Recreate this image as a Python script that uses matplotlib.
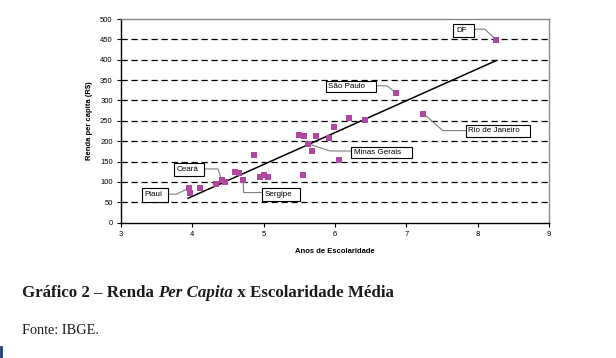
import matplotlib
matplotlib.use("Agg")
import matplotlib.pyplot as plt
from matplotlib.patches import Rectangle
from matplotlib.lines import Line2D

# ---- data ----
escolaridade = [3.95, 3.97, 4.11, 4.33, 4.41, 4.46, 4.60, 4.66, 4.71, 4.87,
                4.95, 5.00, 5.06, 5.50, 5.57, 5.55, 5.62, 5.68, 5.73, 5.91,
                6.05, 5.99, 6.20, 6.42, 6.86, 7.24, 8.26]
renda = [85, 72, 85, 94, 105, 100, 125, 121, 105, 167,
         111, 116, 113, 215, 214, 116, 194, 177, 214, 208,
         153, 236, 256, 253, 318, 268, 449]
trend_x = [3.94, 8.26]
trend_y = [60, 398]

label_names = ["DF", "São Paulo", "Rio de Janeiro", "Minas Gerais", "Ceará", "Piauí", "Sergipe"]
label_points = [(8.26, 449), (6.86, 318), (7.24, 268), (5.62, 194), (4.41, 105), (3.95, 85), (4.71, 105)]

x_ticks = [3, 4, 5, 6, 7, 8, 9]
y_ticks = [0, 50, 100, 150, 200, 250, 300, 350, 400, 450, 500]

x_label = "Anos de Escolaridade"
y_label = "Renda per capita (R$)"
caption_parts = ["Gráfico 2 – Renda ", "Per Capita", " x Escolaridade Média"]
source = "Fonte: IBGE."

# ---- layout ----
W, H = 616, 358
fig = plt.figure(figsize=(W / 100, H / 100), dpi=100)
fig.patch.set_facecolor("white")

ax_l, ax_r, ax_t, ax_b = 121, 549, 19, 222.7
ax = fig.add_axes([ax_l / W, 1 - ax_b / H, (ax_r - ax_l) / W, (ax_b - ax_t) / H])
ax.set_xlim(3, 9)
ax.set_ylim(0, 500)

sans = ["Liberation Sans", "DejaVu Sans"]
serif = ["Liberation Serif", "DejaVu Serif"]

for y in y_ticks[1:-1]:
    ax.axhline(y, color="black", lw=0.9, ls=(0, (5, 3)), zorder=1)

ax.plot(trend_x, trend_y, color="black", lw=1.1, zorder=2)
ax.scatter(escolaridade, renda, marker="s", s=18, color="#B0489F", lw=0, zorder=3)

ax.set_xticks(x_ticks)
ax.set_yticks(y_ticks)
ax.tick_params(direction="out", length=3, width=0.8, labelsize=5.5, pad=3, color="black")
for lab in ax.get_xticklabels() + ax.get_yticklabels():
    lab.set_family(sans)
ax.spines["left"].set_color("black")
ax.spines["bottom"].set_color("black")
ax.spines["top"].set_color("#8a8a8a")
ax.spines["right"].set_color("#8a8a8a")
for s in ax.spines.values():
    s.set_linewidth(1.0)

ax.set_xlabel(x_label, fontsize=5.5, fontweight="bold", family=sans, labelpad=7)
ax.set_ylabel(y_label, fontsize=5.5, fontweight="bold", family=sans, labelpad=5)

# label boxes: (x0, x1, y0, y1) in data coords, connector path
boxes = [
    (7.66, 7.95, 457, 488),
    (5.87, 6.57, 321, 349),
    (7.83, 8.73, 211, 240),
    (6.23, 7.08, 159, 187),
    (3.74, 4.16, 115, 146),
    (3.29, 3.66, 52, 84),
    (4.98, 5.51, 53, 84),
]
connectors = [
    [(7.95, 475), (8.10, 475)],
    [(6.57, 336), (6.73, 336)],
    [(7.83, 226), (7.51, 226)],
    [(6.23, 176), (5.93, 176)],
    [(4.16, 132), (4.36, 132)],
    [(3.66, 70), (3.78, 70)],
    [(4.98, 74), (4.72, 74)],
]
for name, pt, (x0, x1, y0, y1), conn in zip(label_names, label_points, boxes, connectors):
    ax.add_patch(Rectangle((x0, y0), x1 - x0, y1 - y0, facecolor="white",
                           edgecolor="black", lw=0.8, zorder=4))
    ax.text(x0 + 0.035, (y0 + y1) / 2, name, fontsize=5.8, family=sans,
            ha="left", va="center", zorder=5)
    xs = [conn[0][0], conn[1][0], pt[0]]
    ys = [conn[0][1], conn[1][1], pt[1]]
    ax.plot(xs, ys, color="#7f7f7f", lw=0.8, zorder=2.5)

# caption
fig.canvas.draw()
renderer = fig.canvas.get_renderer()
x_px = 22
styles = ["normal", "italic", "normal"]
for part, st in zip(caption_parts, styles):
    t = fig.text(x_px / W, 1 - 297 / H, part, fontsize=12.2, fontweight="bold",
                 style=st, family=serif, ha="left", va="baseline", color="#1a1a1a")
    bb = t.get_window_extent(renderer)
    x_px += bb.width
fig.text(22 / W, 1 - 334 / H, source, fontsize=10.3, family=serif,
         ha="left", va="baseline", color="#1a1a1a")

fig.add_artist(Line2D([1 / W, 1 / W], [1 - 347 / H, 0], color="#1f3c78", lw=2))

fig.savefig("out.png", dpi=100, facecolor="white")
